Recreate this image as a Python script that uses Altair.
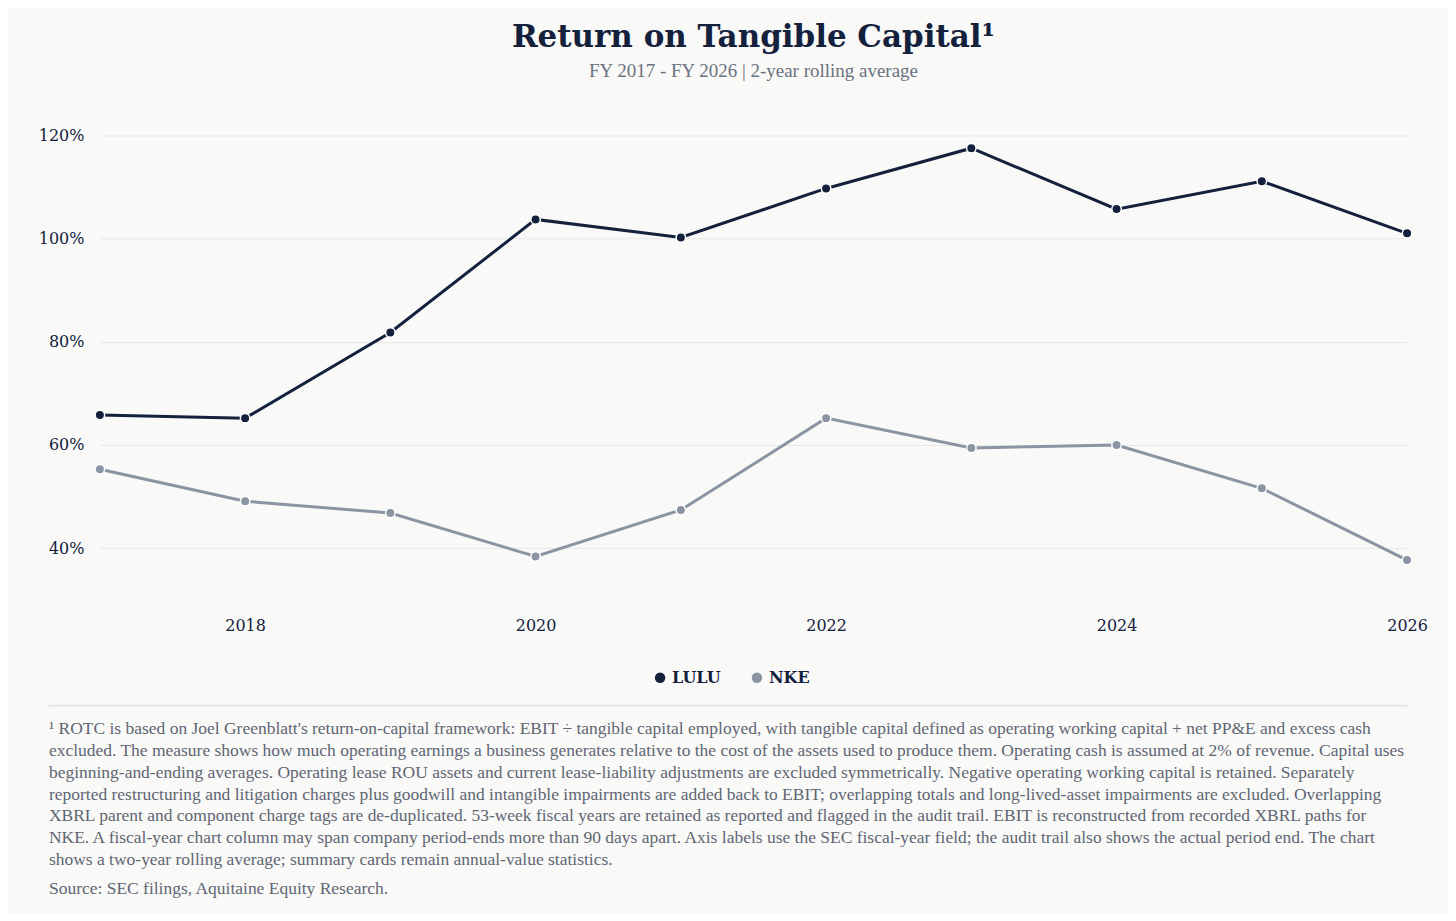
import altair as alt
import pandas as pd

# ---- data ----
years = [2017, 2018, 2019, 2020, 2021, 2022, 2023, 2024, 2025, 2026]
lulu = [65.8, 65.2, 81.8, 103.7, 100.2, 109.7, 117.5, 105.7, 111.1, 101.0]
nke = [55.3, 49.1, 46.8, 38.4, 47.4, 65.2, 59.4, 60.0, 51.6, 37.7]
tickers = ["LULU", "NKE"]
colors = ["#14213d", "#8b94a3"]
x_ticks = [2018, 2020, 2022, 2024, 2026]
y_ticks = [40, 60, 80, 100, 120]

title_text = "Return on Tangible Capital\u00b9"
subtitle_text = "FY 2017 - FY 2026 | 2-year rolling average"
footnote_lines = [
    "\u00b9 ROTC is based on Joel Greenblatt's return-on-capital framework: EBIT \u00f7 tangible capital employed, with tangible capital defined as operating working capital + net PP&E and excess cash",
    "excluded. The measure shows how much operating earnings a business generates relative to the cost of the assets used to produce them. Operating cash is assumed at 2% of revenue. Capital uses",
    "beginning-and-ending averages. Operating lease ROU assets and current lease-liability adjustments are excluded symmetrically. Negative operating working capital is retained. Separately",
    "reported restructuring and litigation charges plus goodwill and intangible impairments are added back to EBIT; overlapping totals and long-lived-asset impairments are excluded. Overlapping",
    "XBRL parent and component charge tags are de-duplicated. 53-week fiscal years are retained as reported and flagged in the audit trail. EBIT is reconstructed from recorded XBRL paths for",
    "NKE. A fiscal-year chart column may span company period-ends more than 90 days apart. Axis labels use the SEC fiscal-year field; the audit trail also shows the actual period end. The chart",
    "shows a two-year rolling average; summary cards remain annual-value statistics.",
]
source_text = "Source: SEC filings, Aquitaine Equity Research."

df = pd.DataFrame({
    "year": years * 2,
    "ticker": ["LULU"] * len(years) + ["NKE"] * len(years),
    "value": lulu + nke,
})
one = pd.DataFrame({"k": [0]})

W, H = 1309, 491
SERIF = "Georgia, 'DejaVu Serif', serif"
FOOT = "'Liberation Serif', Georgia, serif"
NAVY = "#14213d"
GRAY_TXT = "#5f6673"

lines = alt.Chart(df).mark_line(
    strokeWidth=3,
    point=alt.OverlayMarkDef(filled=True, size=90, stroke="white", strokeWidth=1.5, opacity=1),
).encode(
    x=alt.X("year:Q",
            scale=alt.Scale(domain=[2017, 2026], nice=False, zero=False),
            axis=alt.Axis(values=x_ticks, format="d", title=None, grid=False, domain=False,
                          ticks=False, labelFontSize=16, labelColor=NAVY, labelPadding=18,
                          labelFont=SERIF, labelFlush=False)),
    y=alt.Y("value:Q",
            scale=alt.Scale(domain=[30, 125], nice=False, zero=False),
            axis=alt.Axis(values=y_ticks, labelExpr="datum.value + '%'", title=None,
                          domain=False, ticks=False, gridColor="#e7e7e7", gridWidth=1,
                          labelFontSize=16, labelColor=NAVY, labelPadding=16, labelFont=SERIF)),
    color=alt.Color("ticker:N",
                    scale=alt.Scale(domain=tickers, range=colors),
                    legend=alt.Legend(title=None, orient="none", legendX=553, legendY=561,
                                      direction="horizontal",
                                      symbolType="circle", symbolSize=110, symbolStrokeWidth=0,
                                      labelFontSize=16, labelFontWeight="bold", labelColor=NAVY,
                                      labelFont=SERIF, columnPadding=28)),
)

sep = alt.Chart(one).mark_rule(color="#e6e6e6", strokeWidth=2).encode(
    x=alt.value(-51), x2=alt.value(W), y=alt.value(597)
)

foot = alt.Chart(one).mark_text(
    align="left", baseline="top", font=FOOT, fontSize=17.5, lineHeight=22,
    color=GRAY_TXT, text=footnote_lines,
).encode(x=alt.value(-51), y=alt.value(611))

src = alt.Chart(one).mark_text(
    align="left", baseline="top", font=FOOT, fontSize=17.5,
    color=GRAY_TXT, text=source_text,
).encode(x=alt.value(-51), y=alt.value(772))

chart = alt.layer(lines, sep, foot, src).properties(
    width=W, height=H,
    background="#f9f9f8",
    padding={"left": 30, "top": 13, "right": 20, "bottom": 15},
    title=alt.TitleParams(
        text=title_text, subtitle=subtitle_text, anchor="middle",
        font=SERIF, fontSize=31, fontWeight="bold", color=NAVY,
        subtitleFont=FOOT, subtitleFontSize=19, subtitleColor="#6b7280",
        subtitlePadding=8, offset=28,
    ),
).configure_view(stroke=None)

chart.save("out.html", embed_options={"renderer": "svg", "actions": False})
